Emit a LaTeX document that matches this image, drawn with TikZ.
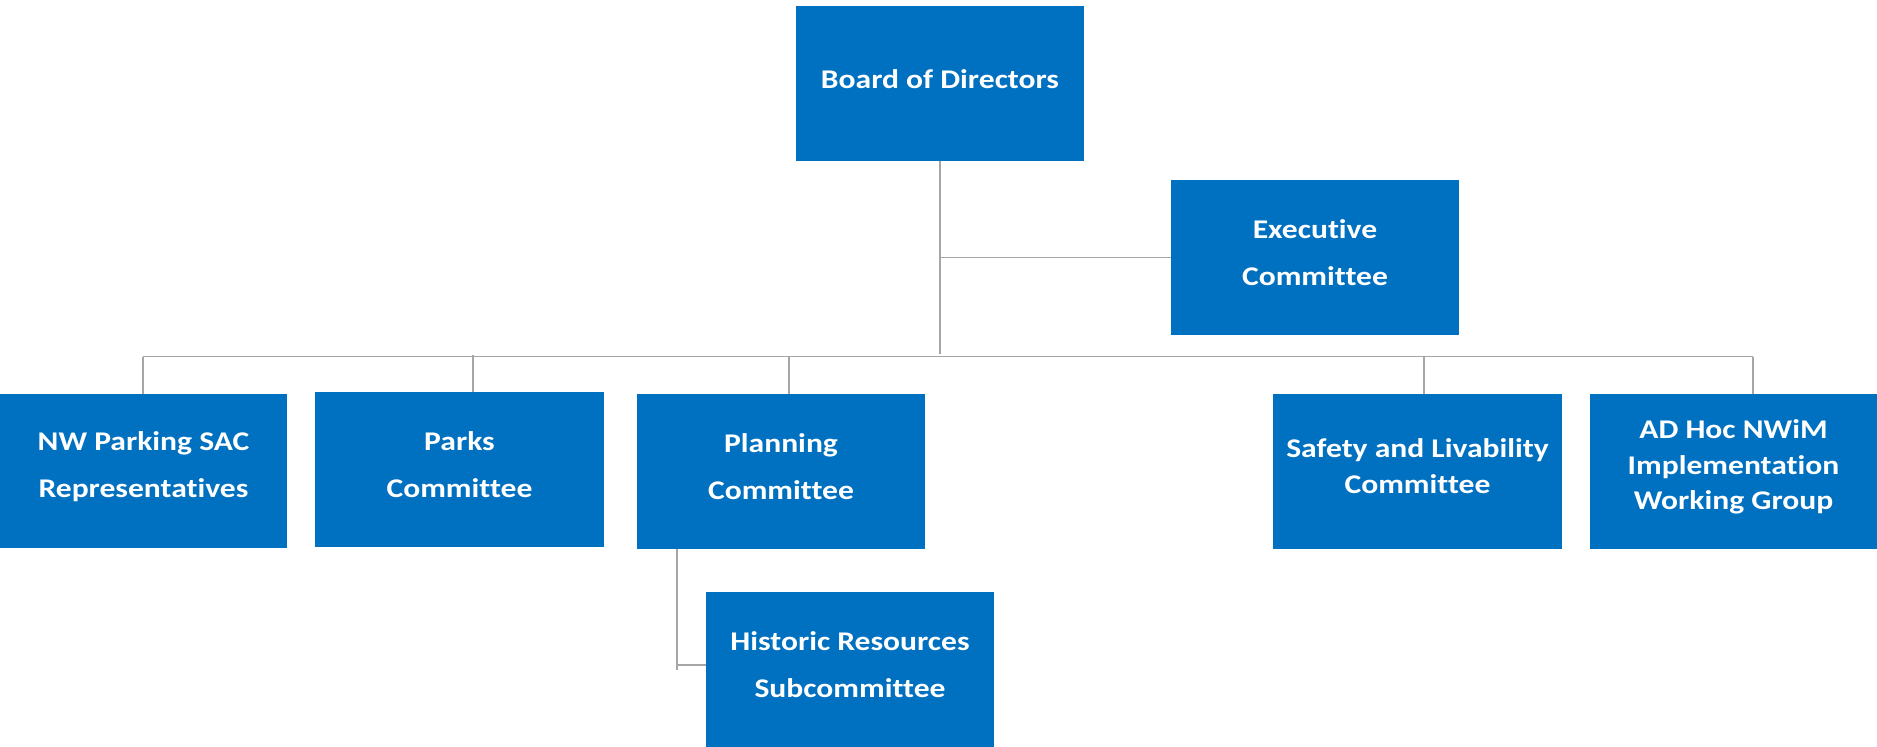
\documentclass[tikz,border=0pt]{standalone}
\usepackage{fontspec}
\setmainfont{Carlito}[FakeStretch=1.17, Ligatures={NoCommon}]
\definecolor{boxblue}{HTML}{0070C0}
\definecolor{linegray}{HTML}{A6A6A6}
\begin{document}
\begin{tikzpicture}[x=1bp,y=-1bp,
  box/.style={fill=boxblue, draw=none, minimum width=288bp, minimum height=155bp, inner sep=0pt, anchor=center},
  txt/.style={text=white, font=\bfseries\fontsize{27bp}{47bp}\selectfont, align=center, inner sep=0pt, anchor=center},
  tight/.style={font=\bfseries\fontsize{27bp}{35.5bp}\selectfont},
  conn/.style={draw=linegray, line width=1.5bp}]
\useasboundingbox (0,0) rectangle (1877,747);
% boxes
\node[box] (board) at (940,83.5) {};
\node[box] (exec) at (1315,257.5) {};
\node[box, minimum width=287bp, minimum height=154bp] (nw) at (143.5,471) {};
\node[box, minimum width=289bp] (parks) at (459.5,469.5) {};
\node[box] (planning) at (781,471.5) {};
\node[box] (historic) at (850,669.5) {};
\node[box, minimum width=289bp] (safety) at (1417.5,471.5) {};
\node[box, minimum width=287bp] (adhoc) at (1733.5,471.5) {};
% texts
\node[txt] (boardT) at (940,79) {Board of Directors};
\node[txt] (execT) at (1315,252.5) {Executive\\Committee};
\node[txt] (nwT) at (143.5,466.5) {NW Parking SAC\\Representatives};
\node[txt] (parksT) at (459.5,464.5) {Parks\\Committee};
\node[txt] (planningT) at (781,466.5) {Planning\\Committee};
\node[txt] (historicT) at (850,664.5) {Historic Resources\\Subcommittee};
\node[txt, tight] (safetyT) at (1417.5,466) {Safety and Livability\\Committee};
\node[txt, tight] (adhocT) at (1733.5,467) {AD Hoc NWiM\\Implementation\\Working Group};
% connector points
\coordinate (trunk) at (940,354);
\coordinate (busL) at (143,356.7);
\coordinate (busR) at (1753,356.7);
\coordinate (pkTop) at (473,355);
\coordinate (plTop) at (789,356.7);
\coordinate (sfTop) at (1424,356.7);
\coordinate (hsJ) at (677,665);
\coordinate (hsBot) at (677,670);
% connectors
\draw[conn] (board.south) -- (trunk);
\draw[conn] (board.south |- exec.west) -- (exec.west);
\draw[conn] (busL) -- (busR);
\draw[conn] (busL) -- (busL |- nw.north);
\draw[conn] (pkTop) -- (pkTop |- parks.north);
\draw[conn] (plTop) -- (plTop |- planning.north);
\draw[conn] (sfTop) -- (sfTop |- safety.north);
\draw[conn] (busR) -- (busR |- adhoc.north);
\draw[conn] (planning.south -| hsJ) -- (hsBot);
\draw[conn] (hsJ) -- (hsJ -| historic.west);
\end{tikzpicture}
\end{document}
